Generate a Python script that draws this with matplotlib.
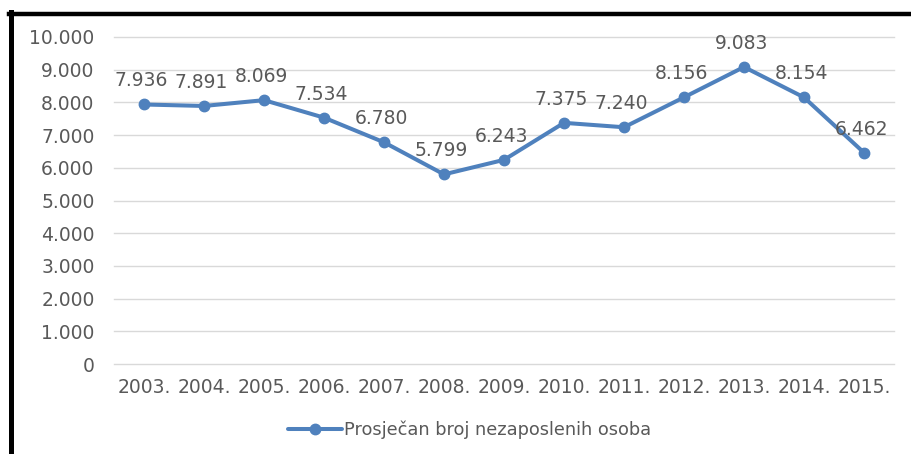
import matplotlib
matplotlib.use("Agg")
import matplotlib.pyplot as plt
from matplotlib.lines import Line2D
from matplotlib.ticker import FuncFormatter

years = ["2003.", "2004.", "2005.", "2006.", "2007.", "2008.", "2009.",
         "2010.", "2011.", "2012.", "2013.", "2014.", "2015."]
unemployed = [7936, 7891, 8069, 7534, 6780, 5799, 6243,
              7375, 7240, 8156, 9083, 8154, 6462]
series_name = "Prosječan broj nezaposlenih osoba"

BLUE = "#4F81BD"
GREY_TEXT = "#595959"
GRID = "#D9D9D9"


def thousands(v, pos=None):
    # Croatian style: dot as thousands separator
    return "{:,.0f}".format(v).replace(",", ".")


def main():
    plt.rcParams['font.family'] = ['DejaVu Sans']
    fig = plt.figure(figsize=(9.12, 4.54), dpi=100)
    W, H = 912.0, 454.0
    ax = fig.add_axes([114 / W, 1 - 364 / H, (894 - 114) / W, (364 - 37) / H])

    x = list(range(len(years)))
    ax.plot(x, unemployed, color=BLUE, lw=2.9, marker="o", ms=7.5,
            label=series_name, solid_capstyle="round")

    for xi, v in zip(x, unemployed):
        ax.annotate(thousands(v), (xi, v), xytext=(-2, 17),
                    textcoords="offset points", ha="center", va="center",
                    fontsize=13.5, color=GREY_TEXT)

    ax.set_xlim(-0.5, len(years) - 0.5)
    ax.set_ylim(0, 10000)
    ax.set_yticks(range(0, 10001, 1000))
    ax.yaxis.set_major_formatter(FuncFormatter(thousands))
    ax.set_xticks(x)
    ax.set_xticklabels(years)

    ax.grid(axis="y", color=GRID, lw=1)
    for gl in ax.get_ygridlines():
        gl.set_clip_on(False)
    ax.set_axisbelow(True)
    for s in ax.spines.values():
        s.set_visible(False)
    ax.tick_params(axis="both", length=0, labelsize=13.5, colors=GREY_TEXT)
    ax.tick_params(axis="y", pad=14)
    ax.tick_params(axis="x", pad=10)

    leg = fig.legend(loc="center", bbox_to_anchor=(470 / W, 1 - 430 / H),
                     frameon=False, fontsize=12.8, handlelength=3.0,
                     handletextpad=0.15)
    for t in leg.get_texts():
        t.set_color(GREY_TEXT)

    # black frame on top and left edge
    fig.add_artist(Line2D([9 / W, 1.0], [1 - 14 / H, 1 - 14 / H],
                          transform=fig.transFigure, color="black", lw=3.2))
    fig.add_artist(Line2D([11.5 / W, 11.5 / W], [1 - 12 / H, 0.0],
                          transform=fig.transFigure, color="black", lw=3.6))

    fig.savefig("out.png", dpi=100)


if __name__ == "__main__":
    main()
